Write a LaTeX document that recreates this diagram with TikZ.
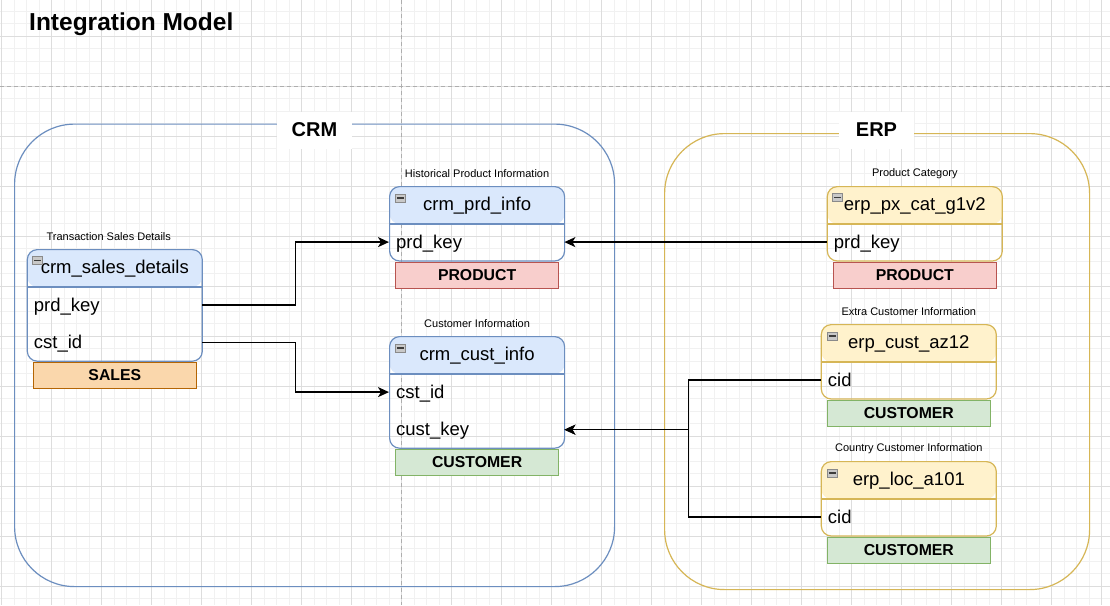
\documentclass[tikz,border=0pt]{standalone}
\usepackage{fontspec}
\setmainfont{Liberation Sans}
\usetikzlibrary{arrows.meta,calc}

\definecolor{cGridMinor}{HTML}{F1F1F1}
\definecolor{cGridMajor}{HTML}{DDDDDD}
\definecolor{cGuide}{HTML}{AEAEAE}
\definecolor{cBlueFill}{HTML}{DAE8FC}
\definecolor{cBlueEdge}{HTML}{6C8EBF}
\definecolor{cYellowFill}{HTML}{FFF2CC}
\definecolor{cYellowEdge}{HTML}{D6B656}
\definecolor{cRedFill}{HTML}{F8CECC}
\definecolor{cRedEdge}{HTML}{B85450}
\definecolor{cGreenFill}{HTML}{D5E8D4}
\definecolor{cGreenEdge}{HTML}{82B366}
\definecolor{cOrangeFill}{HTML}{FAD7AC}
\definecolor{cOrangeEdge}{HTML}{B46504}
\definecolor{cIconFill}{HTML}{C8C8C8}
\definecolor{cIconEdge}{HTML}{8A8A8A}
\definecolor{cIconDash}{HTML}{3C3C3C}

\tikzset{
  gridminor/.style={cGridMinor, line width=0.9pt},
  gridmajor/.style={cGridMajor, line width=0.9pt},
  guide/.style={cGuide, line width=0.9pt, dash pattern=on 4pt off 3pt},
  container/.style={line width=1.2pt, rounded corners=60pt, anchor=north west, inner sep=0pt},
  grouptitle/.style={fill=white, minimum width=75pt, minimum height=37pt, inner sep=0pt,
    font=\bfseries\fontsize{20}{24}\selectfont},
  erdtable/.style 2 args={draw=#2, line width=1.2pt, rounded corners=10pt, minimum width=175pt,
    anchor=north west, inner sep=0pt,
    path picture={
      \fill[#1] (path picture bounding box.north west) rectangle
        ([yshift=-37.3pt]path picture bounding box.north east);
      \draw[#2, line width=1.2pt] ([yshift=-37.3pt]path picture bounding box.north west) --
        ([yshift=-37.3pt]path picture bounding box.north east);
    }},
  hdrtitle/.style={inner sep=0pt, font=\fontsize{18.5}{22}\selectfont,
    text height=15pt, text depth=4pt},
  row/.style={anchor=north west, minimum height=37.2pt, text width=161pt, inner xsep=7pt,
    inner ysep=0pt, align=left, font=\fontsize{18.5}{22}\selectfont,
    text height=16pt, text depth=4pt},
  tag/.style={anchor=north, minimum width=163pt, minimum height=26pt, inner sep=0pt,
    line width=1.1pt, font=\bfseries\fontsize{15.8}{18}\selectfont},
  caption/.style={inner sep=0pt, font=\fontsize{11}{13}\selectfont},
  minusbox/.style={minimum width=10pt, minimum height=8pt, inner sep=0pt, fill=cIconFill,
    draw=cIconEdge, line width=0.6pt,
    path picture={\draw[cIconDash, line width=1.4pt]
      ([xshift=1.5pt]path picture bounding box.west) --
      ([xshift=-1.5pt]path picture bounding box.east);}},
  conn/.style={line width=1.4pt, -{Stealth[length=11pt,width=10pt,inset=3pt]}}
}

\begin{document}
\begin{tikzpicture}[x=1pt,y=-1pt]
\useasboundingbox (0,0) rectangle (1110,605);
\fill[white] (0,0) rectangle (1110,605);

% background grid
\foreach \k in {0,...,88} \draw[gridminor] ({1.7+12.5*\k},0) -- ({1.7+12.5*\k},605);
\foreach \k in {0,...,47} \draw[gridminor] (0,{11+12.5*\k}) -- (1110,{11+12.5*\k});
\foreach \k in {0,...,22} \draw[gridmajor] ({1.7+50*\k},0) -- ({1.7+50*\k},605);
\foreach \k in {0,...,11} \draw[gridmajor] (0,{36+50*\k}) -- (1110,{36+50*\k});

% page guides
\draw[guide] (401.7,0) -- (401.7,605);
\draw[guide] (0,86) -- (1110,86);

% title
\node[anchor=west, inner sep=0pt, font=\bfseries\fontsize{24.5}{28}\selectfont] (title)
  at (29,24) {Integration Model};

% source system groups
\node[container, draw=cBlueEdge, minimum width=600pt, minimum height=462.5pt] (crm) at (14,123.5) {};
\node[container, draw=cYellowEdge, minimum width=425pt, minimum height=456pt] (erp) at (664,133) {};
\node[grouptitle] (crm-title) at (314.5,130) {CRM};
\node[grouptitle] (erp-title) at (876.5,130) {ERP};

% ---------- CRM tables ----------
% crm_sales_details
\node[erdtable={cBlueFill}{cBlueEdge}, minimum height=111.6pt] (sd) at (26.7,249) {};
\node[hdrtitle] (sd-title) at ([yshift=-18.65pt]sd.north) {crm\_sales\_details};
\node[minusbox] (sd-icon) at ([xshift=11pt,yshift=-11.5pt]sd.north west) {};
\node[row] (sd-prd) at ([yshift=-37.3pt]sd.north west) {prd\_key};
\node[row] (sd-cst) at (sd-prd.south west) {cst\_id};
\node[tag, fill=cOrangeFill, draw=cOrangeEdge] (sd-tag) at (sd.south) {SALES};
\node[caption] (sd-cap) at ([xshift=-6pt,yshift=12.5pt]sd.north) {Transaction Sales Details};

% crm_prd_info
\node[erdtable={cBlueFill}{cBlueEdge}, minimum height=74.4pt] (pi) at (389,186) {};
\node[hdrtitle] (pi-title) at ([yshift=-18.65pt]pi.north) {crm\_prd\_info};
\node[minusbox] (pi-icon) at ([xshift=11.7pt,yshift=-12pt]pi.north west) {};
\node[row] (pi-prd) at ([yshift=-37.3pt]pi.north west) {prd\_key};
\node[tag, fill=cRedFill, draw=cRedEdge] (pi-tag) at (pi.south) {PRODUCT};
\node[caption] (pi-cap) at ([yshift=12.8pt]pi.north) {Historical Product Information};

% crm_cust_info
\node[erdtable={cBlueFill}{cBlueEdge}, minimum height=111.6pt] (ci) at (389,336) {};
\node[hdrtitle] (ci-title) at ([yshift=-18.65pt]ci.north) {crm\_cust\_info};
\node[minusbox] (ci-icon) at ([xshift=11.7pt,yshift=-12pt]ci.north west) {};
\node[row] (ci-cst) at ([yshift=-37.3pt]ci.north west) {cst\_id};
\node[row] (ci-key) at (ci-cst.south west) {cust\_key};
\node[tag, fill=cGreenFill, draw=cGreenEdge] (ci-tag) at (ci.south) {CUSTOMER};
\node[caption] (ci-cap) at ([yshift=12.8pt]ci.north) {Customer Information};

% ---------- ERP tables ----------
% erp_px_cat_g1v2
\node[erdtable={cYellowFill}{cYellowEdge}, minimum height=74.4pt] (px) at (826.7,186) {};
\node[hdrtitle] (px-title) at ([yshift=-18.65pt]px.north) {erp\_px\_cat\_g1v2};
\node[minusbox] (px-icon) at ([xshift=11pt,yshift=-11.5pt]px.north west) {};
\node[row] (px-prd) at ([yshift=-37.3pt]px.north west) {prd\_key};
\node[tag, fill=cRedFill, draw=cRedEdge] (px-tag) at (px.south) {PRODUCT};
\node[caption] (px-cap) at ([yshift=12.8pt]px.north) {Product Category};

% erp_cust_az12
\node[erdtable={cYellowFill}{cYellowEdge}, minimum height=74.4pt] (az) at (820.7,324) {};
\node[hdrtitle] (az-title) at ([yshift=-18.65pt]az.north) {erp\_cust\_az12};
\node[minusbox] (az-icon) at ([xshift=11.7pt,yshift=-12pt]az.north west) {};
\node[row] (az-cid) at ([yshift=-37.3pt]az.north west) {cid};
\node[tag, fill=cGreenFill, draw=cGreenEdge] (az-tag) at (az.south) {CUSTOMER};
\node[caption] (az-cap) at ([yshift=12.5pt]az.north) {Extra Customer Information};

% erp_loc_a101
\node[erdtable={cYellowFill}{cYellowEdge}, minimum height=74.4pt] (loc) at (820.7,461) {};
\node[hdrtitle] (loc-title) at ([yshift=-18.65pt]loc.north) {erp\_loc\_a101};
\node[minusbox] (loc-icon) at ([xshift=11.7pt,yshift=-12pt]loc.north west) {};
\node[row] (loc-cid) at ([yshift=-37.3pt]loc.north west) {cid};
\node[tag, fill=cGreenFill, draw=cGreenEdge] (loc-tag) at (loc.south) {CUSTOMER};
\node[caption] (loc-cap) at ([yshift=12.7pt]loc.north) {Country Customer Information};

% ---------- relationships ----------
\draw[conn] (sd-prd.east) -| ($(sd-prd.east)!.5!(pi-prd.west)$) |- (pi-prd.west);
\draw[conn] (sd-cst.east) -| ($(sd-cst.east)!.5!(ci-cst.west)$) |- (ci-cst.west);
\draw[conn] (px-prd.west) -- (pi-prd.east);
\draw[conn] (az-cid.west) -- ++(-132,0) |- (ci-key.east);
\draw[conn] (loc-cid.west) -- ++(-132,0) |- (ci-key.east);
\end{tikzpicture}
\end{document}
